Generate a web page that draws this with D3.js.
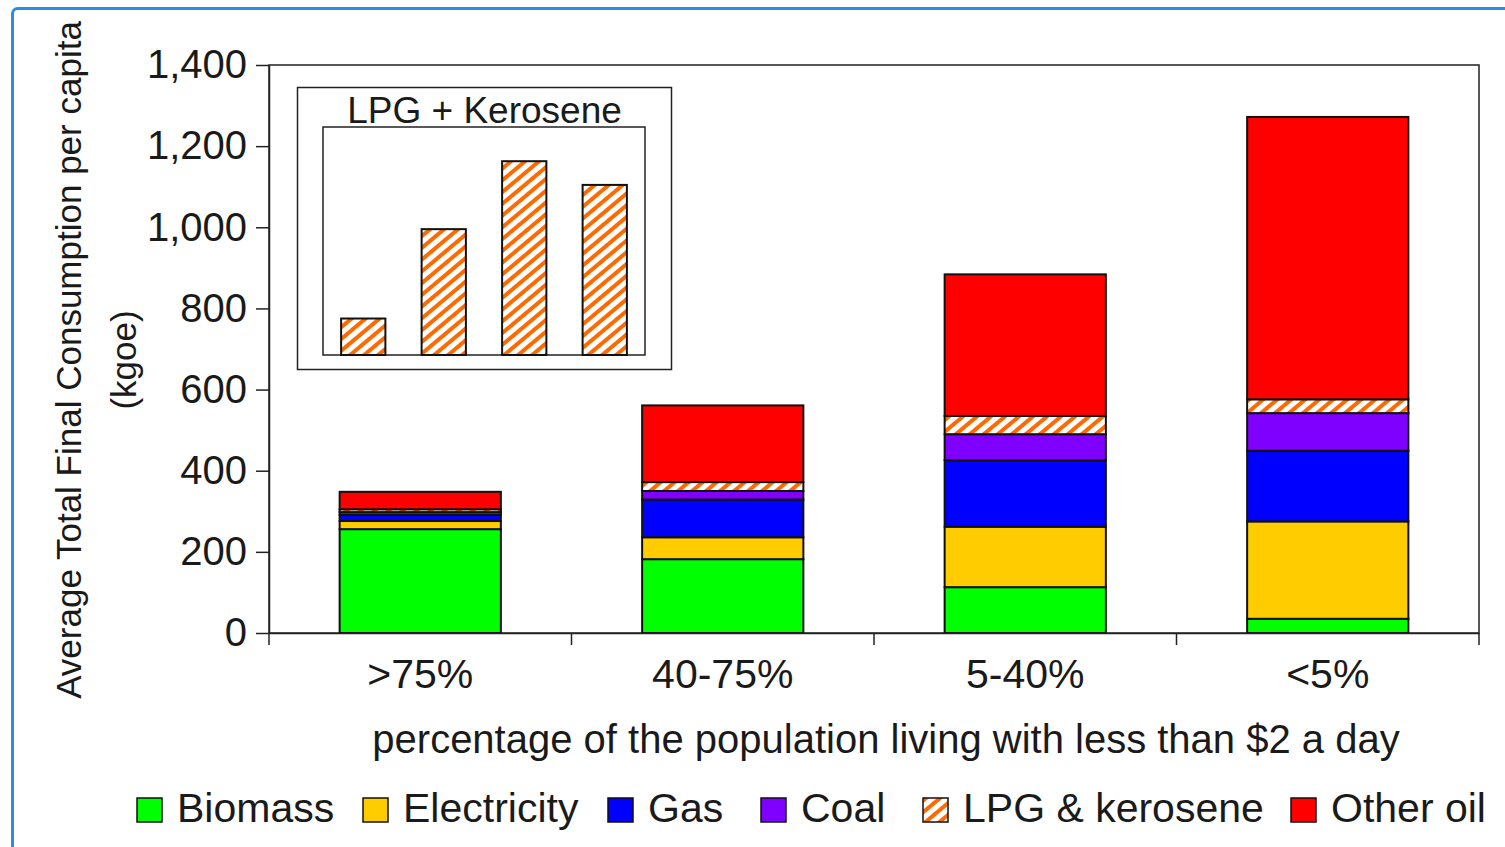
<!DOCTYPE html>
<html>
<head>
<meta charset="utf-8">
<script src="https://cdn.jsdelivr.net/npm/d3@7"></script>
<style>
  body { margin: 0; background: #fff; }
  svg text { font-family: "Liberation Sans", Arial, sans-serif; fill: #1a1a1a; }
</style>
</head>
<body>
<svg id="chart" width="1505" height="847"></svg>
<script>
// data (kgoe per capita)
const categories = [">75%", "40-75%", "5-40%", "<5%"];
const seriesNames = ["Biomass", "Electricity", "Gas", "Coal", "LPG & kerosene", "Other oil"];
const biomass     = [256, 182, 113, 35];
const electricity = [20, 54, 149, 240];
const gas         = [15, 93, 164, 174];
const coal        = [7, 21, 64, 93];
const lpgKerosene = [7, 22, 45, 34];
const otherOil    = [43, 189, 349, 696];
const yTicks = [0, 200, 400, 600, 800, 1000, 1200, 1400];

// inset "LPG + Kerosene" (its own, unlabelled scale)
const insetValues = [8, 27.6, 42.5, 37.3];

const colors = ["#00ff00", "#ffcc00", "#0000ff", "#8000ff", "url(#hatch)", "#ff0000"];

const svg = d3.select("#chart");

// hatch pattern for LPG
const defs = svg.append("defs");
defs.append("pattern")
    .attr("id", "hatch")
    .attr("patternUnits", "userSpaceOnUse")
    .attr("width", 9).attr("height", 9)
    .attr("patternTransform", "rotate(50)")
  .call(p => {
    p.append("rect").attr("width", 9).attr("height", 9).attr("fill", "#fff");
    p.append("rect").attr("width", 4).attr("height", 9).attr("fill", "#ff6a00");
  });

// blue frame
svg.append("rect")
    .attr("x", 12.5).attr("y", 8.5)
    .attr("width", 1600).attr("height", 900)
    .attr("rx", 5)
    .attr("fill", "none")
    .attr("stroke", "#2b8de8")
    .attr("stroke-width", 3);

const rows = categories.map((c, i) => ({
  cat: c,
  "Biomass": biomass[i],
  "Electricity": electricity[i],
  "Gas": gas[i],
  "Coal": coal[i],
  "LPG & kerosene": lpgKerosene[i],
  "Other oil": otherOil[i]
}));
const stacked = d3.stack().keys(seriesNames)(rows);

const x = d3.scaleBand().domain(categories).range([269, 1479]);
const y = d3.scaleLinear().domain([0, 1400]).range([633, 65]);
const barW = x.bandwidth() * 0.533;

// plot frame
svg.append("rect")
    .attr("x", x.range()[0]).attr("y", y.range()[1])
    .attr("width", x.range()[1] - x.range()[0])
    .attr("height", y.range()[0] - y.range()[1])
    .attr("fill", "none").attr("stroke", "#222").attr("stroke-width", 1.5);

// bars
svg.append("g").selectAll("g")
  .data(stacked)
  .join("g")
    .attr("fill", (d, i) => colors[i])
  .selectAll("rect")
  .data(d => d)
  .join("rect")
    .attr("x", d => x(d.data.cat) + (x.bandwidth() - barW) / 2)
    .attr("y", d => y(d[1]))
    .attr("width", barW)
    .attr("height", d => y(d[0]) - y(d[1]))
    .attr("stroke", "#111")
    .attr("stroke-width", 2);

// y axis
const yAxis = svg.append("g")
    .attr("transform", `translate(${x.range()[0]},0)`)
    .call(d3.axisLeft(y).tickValues(yTicks).tickFormat(d3.format(","))
      .tickSize(13).tickPadding(9).tickSizeOuter(0));
yAxis.select(".domain").attr("stroke", "#222").attr("stroke-width", 1.5);
yAxis.selectAll(".tick line").attr("stroke", "#222").attr("stroke-width", 1.5);
yAxis.selectAll("text").style("font-size", "40px").attr("fill", "#1a1a1a");

// x axis: labels at centers, ticks at band edges
const xAxis = svg.append("g")
    .attr("transform", `translate(0,${y(0)})`)
    .call(d3.axisBottom(x).tickSize(0).tickPadding(26));
xAxis.select(".domain").attr("stroke", "#222").attr("stroke-width", 1.5);
xAxis.selectAll("text").style("font-size", "41px").attr("fill", "#1a1a1a");
const edges = categories.map(c => x(c)).concat([x.range()[1]]);
svg.append("g").selectAll("line")
  .data(edges)
  .join("line")
    .attr("x1", d => d).attr("x2", d => d)
    .attr("y1", y(0)).attr("y2", y(0) + 12)
    .attr("stroke", "#222").attr("stroke-width", 1.5);

// axis titles
svg.append("text")
    .attr("transform", "translate(81,360) rotate(-90)")
    .attr("text-anchor", "middle")
    .style("font-size", "35px")
    .text("Average Total Final Consumption per capita");
svg.append("text")
    .attr("transform", "translate(136,360) rotate(-90)")
    .attr("text-anchor", "middle")
    .style("font-size", "35px")
    .text("(kgoe)");
svg.append("text")
    .attr("x", 886).attr("y", 753)
    .attr("text-anchor", "middle")
    .style("font-size", "40px")
    .text("percentage of the population living with less than $2 a day");

// inset
const ix = d3.scaleBand().domain(categories).range([323, 645]).paddingInner(0.45).paddingOuter(0.225);
const iy = d3.scaleLinear().domain([0, 50]).range([355, 127]);
svg.append("rect")
    .attr("x", 297.5).attr("y", 87.5).attr("width", 374).attr("height", 282)
    .attr("fill", "#fff").attr("stroke", "#222").attr("stroke-width", 1.5);
svg.append("rect")
    .attr("x", ix.range()[0]).attr("y", iy.range()[1])
    .attr("width", ix.range()[1] - ix.range()[0])
    .attr("height", iy.range()[0] - iy.range()[1])
    .attr("fill", "none").attr("stroke", "#222").attr("stroke-width", 1.5);
svg.append("text")
    .attr("x", 484.5).attr("y", 123)
    .attr("text-anchor", "middle")
    .style("font-size", "37px")
    .text("LPG + Kerosene");
svg.append("g").selectAll("rect")
  .data(insetValues)
  .join("rect")
    .attr("x", (d, i) => ix(categories[i]))
    .attr("y", d => iy(d))
    .attr("width", ix.bandwidth())
    .attr("height", d => iy(0) - iy(d))
    .attr("fill", "url(#hatch)")
    .attr("stroke", "#111").attr("stroke-width", 2);

// legend
const legendX = [137, 363, 608, 761, 923, 1291];
const legend = svg.append("g").selectAll("g")
  .data(seriesNames)
  .join("g")
    .attr("transform", (d, i) => `translate(${legendX[i]},798)`);
legend.append("rect")
    .attr("width", 25).attr("height", 24)
    .attr("fill", (d, i) => colors[i])
    .attr("stroke", "#111").attr("stroke-width", 1.5);
legend.append("text")
    .attr("x", 40).attr("y", 24)
    .style("font-size", "41px")
    .text(d => d);
</script>
</body>
</html>
